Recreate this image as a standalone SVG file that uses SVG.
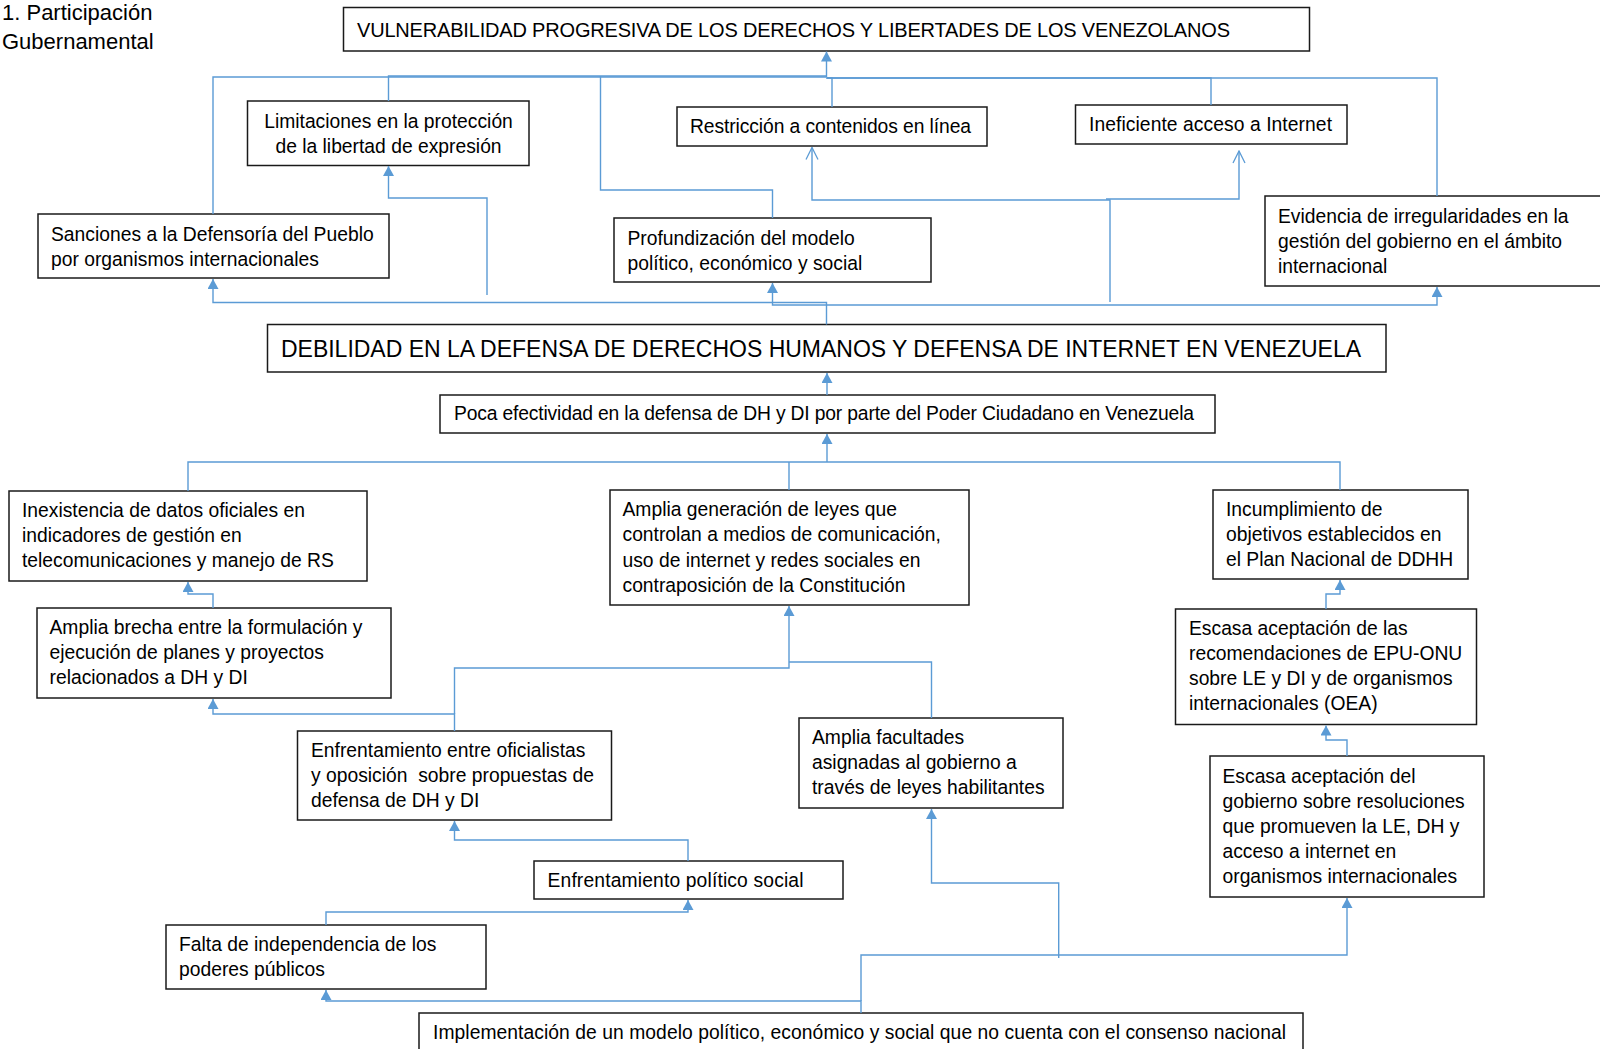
<svg xmlns="http://www.w3.org/2000/svg" width="1600" height="1049" viewBox="0 0 1600 1049">
<style>
.box{fill:#fff;stroke:#1a1a1a;stroke-width:1.5}
.t{font-family:"Liberation Sans",Arial,sans-serif;font-size:19.3px;fill:#000}
.c{fill:none;stroke:#5B9BD5;stroke-width:1.4}
</style>
<defs>
<marker id="fa" viewBox="0 0 10 11" refX="10" refY="5.5" markerWidth="10" markerHeight="11" markerUnits="userSpaceOnUse" orient="auto">
<path d="M0,0 L10,5.5 L0,11 z" fill="#5B9BD5"/>
</marker>
<marker id="oa" viewBox="0 0 14 14" refX="13" refY="7" markerWidth="14" markerHeight="14" markerUnits="userSpaceOnUse" orient="auto">
<path d="M1,1 L13,7 L1,13" fill="none" stroke="#5B9BD5" stroke-width="1.3"/>
</marker>
</defs>
<rect width="1600" height="1049" fill="#fff"/>

<g id="label-participacion">
<text class="t" x="2" y="20" style="font-size:22px">1. Participación</text>
<text class="t" x="2" y="49" style="font-size:22px">Gubernamental</text>
</g>

<g id="n-vulnerabilidad"><rect class="box" x="343.5" y="7.5" width="966" height="43.5"/>
<text class="t" x="357" y="37" style="font-size:20px" textLength="873">VULNERABILIDAD PROGRESIVA DE LOS DERECHOS Y LIBERTADES DE LOS VENEZOLANOS</text></g>

<g id="n-limitaciones"><rect class="box" x="247.5" y="101" width="281.5" height="64.5"/>
<text class="t" x="388.5" y="128" text-anchor="middle">Limitaciones en la protección</text>
<text class="t" x="388.5" y="153" text-anchor="middle">de la libertad de expresión</text></g>

<g id="n-restriccion"><rect class="box" x="677" y="107" width="310" height="39"/>
<text class="t" x="690" y="133" textLength="281">Restricción a contenidos en línea</text></g>

<g id="n-ineficiente"><rect class="box" x="1075.5" y="105" width="271.5" height="39"/>
<text class="t" x="1089" y="131" textLength="243">Ineficiente acceso a Internet</text></g>

<g id="n-sanciones"><rect class="box" x="38" y="214" width="351" height="64"/>
<text class="t" x="51" y="241">Sanciones a la Defensoría del Pueblo</text>
<text class="t" x="51" y="266">por organismos internacionales</text></g>

<g id="n-profundizacion"><rect class="box" x="614" y="218" width="317" height="64"/>
<text class="t" x="627.5" y="245">Profundización del modelo</text>
<text class="t" x="627.5" y="269.5">político, económico y social</text></g>

<g id="n-evidencia"><rect class="box" x="1265" y="196" width="345" height="90"/>
<text class="t" x="1278" y="223">Evidencia de irregularidades en la</text>
<text class="t" x="1278" y="248">gestión del gobierno en el ámbito</text>
<text class="t" x="1278" y="273">internacional</text></g>

<g id="n-debilidad"><rect class="box" x="267.5" y="324.5" width="1118.5" height="47.5"/>
<text class="t" x="281" y="357" style="font-size:23px" textLength="1080">DEBILIDAD EN LA DEFENSA DE DERECHOS HUMANOS Y DEFENSA DE INTERNET EN VENEZUELA</text></g>

<g id="n-poca"><rect class="box" x="440" y="395" width="775" height="38"/>
<text class="t" x="454" y="420" textLength="740">Poca efectividad en la defensa de DH y DI por parte del Poder Ciudadano en Venezuela</text></g>

<g id="n-inexistencia"><rect class="box" x="9" y="491" width="358" height="90"/>
<text class="t" x="22" y="517">Inexistencia de datos oficiales en</text>
<text class="t" x="22" y="542">indicadores de gestión en</text>
<text class="t" x="22" y="567">telecomunicaciones y manejo de RS</text></g>

<g id="n-amplia-generacion"><rect class="box" x="610" y="490" width="359" height="115"/>
<text class="t" x="622.5" y="516">Amplia generación de leyes que</text>
<text class="t" x="622.5" y="541">controlan a medios de comunicación,</text>
<text class="t" x="622.5" y="566.5">uso de internet y redes sociales en</text>
<text class="t" x="622.5" y="591.5">contraposición de la Constitución</text></g>

<g id="n-incumplimiento"><rect class="box" x="1213" y="490" width="255" height="89"/>
<text class="t" x="1226" y="516">Incumplimiento de</text>
<text class="t" x="1226" y="541">objetivos establecidos en</text>
<text class="t" x="1226" y="566">el Plan Nacional de DDHH</text></g>

<g id="n-amplia-brecha"><rect class="box" x="37" y="608" width="354" height="90"/>
<text class="t" x="49.5" y="634.3">Amplia brecha entre la formulación y</text>
<text class="t" x="49.5" y="659.3">ejecución de planes y proyectos</text>
<text class="t" x="49.5" y="684.3">relacionados a DH y DI</text></g>

<g id="n-escasa-recomendaciones"><rect class="box" x="1175.5" y="609" width="301" height="115.5"/>
<text class="t" x="1189" y="635">Escasa aceptación de las</text>
<text class="t" x="1189" y="660">recomendaciones de EPU-ONU</text>
<text class="t" x="1189" y="685">sobre LE y DI y de organismos</text>
<text class="t" x="1189" y="710">internacionales (OEA)</text></g>

<g id="n-enfrentamiento-oficialistas"><rect class="box" x="297.5" y="731" width="314" height="89"/>
<text class="t" x="311" y="757">Enfrentamiento entre oficialistas</text>
<text class="t" x="311" y="782" xml:space="preserve">y oposición  sobre propuestas de</text>
<text class="t" x="311" y="807">defensa de DH y DI</text></g>

<g id="n-amplia-facultades"><rect class="box" x="799" y="718" width="264" height="90"/>
<text class="t" x="812" y="744.3">Amplia facultades</text>
<text class="t" x="812" y="769.3">asignadas al gobierno a</text>
<text class="t" x="812" y="794.3">través de leyes habilitantes</text></g>

<g id="n-escasa-resoluciones"><rect class="box" x="1210" y="756" width="274" height="141"/>
<text class="t" x="1222.5" y="783">Escasa aceptación del</text>
<text class="t" x="1222.5" y="808">gobierno sobre resoluciones</text>
<text class="t" x="1222.5" y="833">que promueven la LE, DH y</text>
<text class="t" x="1222.5" y="858">acceso a internet en</text>
<text class="t" x="1222.5" y="883">organismos internacionales</text></g>

<g id="n-enfrentamiento-politico"><rect class="box" x="534" y="861" width="309" height="38"/>
<text class="t" x="547.5" y="887" textLength="256">Enfrentamiento político social</text></g>

<g id="n-falta"><rect class="box" x="166" y="925" width="320" height="64"/>
<text class="t" x="179" y="951">Falta de independencia de los</text>
<text class="t" x="179" y="976">poderes públicos</text></g>

<g id="n-implementacion"><rect class="box" x="419" y="1013" width="884" height="50"/>
<text class="t" x="433" y="1039" textLength="853">Implementación de un modelo político, económico y social que no cuenta con el consenso nacional</text></g>

<g id="connectors">
<path class="c" d="M213,214 V77 H826.5"/>
<path class="c" d="M826.5,77 V51.5" marker-end="url(#fa)"/>
<path class="c" d="M388.5,101 V76 H826.5"/>
<path class="c" d="M772.5,218 V190 H600.5 V76"/>
<path class="c" d="M832,107 V78 H826.5"/>
<path class="c" d="M1211,105 V78 H826.5"/>
<path class="c" d="M1437,196 V78 H826.5"/>

<path class="c" d="M826.5,324.5 V302.5 H213 V279" marker-end="url(#fa)"/>
<path class="c" d="M826.5,305 H772.5 V283" marker-end="url(#fa)"/>
<path class="c" d="M826.5,305 H1437 V287" marker-end="url(#fa)"/>
<path class="c" d="M487,295 V198 H388.5 V166" marker-end="url(#fa)"/>
<path class="c" d="M1110,302 V200 H812 V147.5" marker-end="url(#oa)"/>
<path class="c" d="M1106,199 H1239 V151" marker-end="url(#oa)"/>

<path class="c" d="M827,395 V373" marker-end="url(#fa)"/>
<path class="c" d="M827,462 V434" marker-end="url(#fa)"/>
<path class="c" d="M188,491 V462 H1340 V490"/>
<path class="c" d="M789,490 V462"/>
<path class="c" d="M213,608 V594 H188 V582" marker-end="url(#fa)"/>
<path class="c" d="M454.5,731 V714 H213 V699" marker-end="url(#fa)"/>
<path class="c" d="M454.5,714 V668 H789 V606" marker-end="url(#fa)"/>
<path class="c" d="M931.5,718 V662 H789"/>
<path class="c" d="M688,861 V840 H454.5 V821" marker-end="url(#fa)"/>
<path class="c" d="M326,925 V912 H688 V900" marker-end="url(#fa)"/>
<path class="c" d="M861,1013 V1001 H326 V990" marker-end="url(#fa)"/>
<path class="c" d="M861,1001 V955 H1347 V898" marker-end="url(#fa)"/>
<path class="c" d="M1058.7,958 V883 H931.5 V809" marker-end="url(#fa)"/>
<path class="c" d="M1347,756 V740 H1326 V725.5" marker-end="url(#fa)"/>
<path class="c" d="M1326,609 V594 H1340 V580" marker-end="url(#fa)"/>
</g>
</svg>
